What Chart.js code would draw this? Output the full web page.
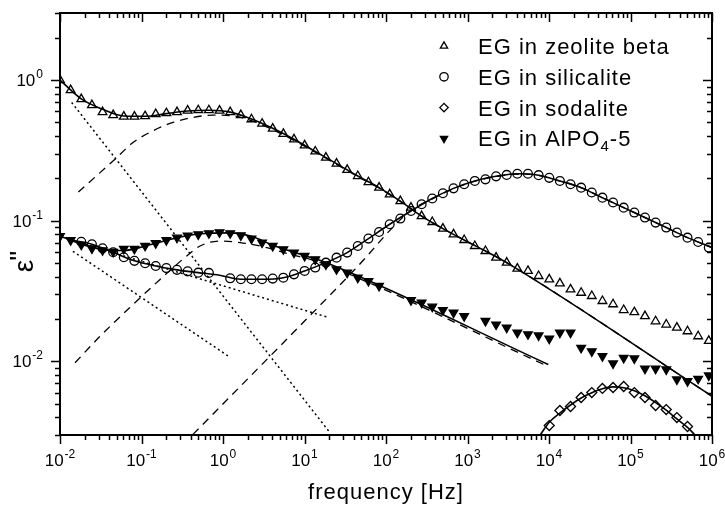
<!DOCTYPE html>
<html>
<head>
<meta charset="utf-8">
<script src="https://cdn.jsdelivr.net/npm/chart.js@4/dist/chart.umd.min.js"></script>
<style>
  html, body { margin: 0; background: #fff; }
  canvas { display: block; }
</style>
</head>
<body>
<canvas id="loss" width="725" height="507"></canvas>
<script>
// measured frequencies in Hz, shared by all four samples
var freq = [0.01, 0.01351, 0.01824, 0.02463, 0.03327, 0.04494, 0.06067, 0.0819, 0.1107, 0.1494,
  0.2018, 0.2726, 0.3681, 0.4972, 0.6714, 0.9068, 1.225, 1.654, 2.234, 3.017,
  4.074, 5.502, 7.43, 10.03, 13.55, 18.3, 24.72, 33.39, 45.08, 60.89,
  82.22, 111, 150, 202.5, 273.5, 369.4, 498.9, 673.7, 909.9, 1229,
  1660, 2242, 3027, 4088, 5521, 7456, 10070, 13600, 18370, 24800,
  33500, 45240, 61090, 82500, 111400, 150500, 203200, 274500, 370700, 500600,
  676100, 913100];

// dielectric loss of ethylene glycol in the four hosts (null = no point)
var zeoliteBeta = [1.0, 0.849, 0.732, 0.664, 0.592, 0.564, 0.550, 0.550, 0.554, 0.573,
  0.582, 0.592, 0.607, 0.611, 0.611, 0.607, 0.592, 0.564, 0.527, 0.490,
  0.452, 0.415, 0.379, 0.344, 0.311, 0.281, 0.255, 0.230, 0.208, 0.188,
  0.172, 0.154, 0.138, 0.124, 0.108, 0.098, 0.088, 0.0801, 0.073, 0.0662,
  0.061, 0.0547, 0.0504, 0.0457, 0.044, 0.0405, 0.0383, 0.0359, 0.0325, 0.0308,
  0.0292, 0.0269, 0.0255, 0.0232, 0.0224, 0.021, 0.0193, 0.0183, 0.0174, 0.0164,
  0.0151, 0.014];

var silicalite = [null, null, 0.0709, 0.0681, 0.0637, 0.0597, 0.055, 0.0519, 0.0499, 0.0477,
  0.0461, 0.0448, 0.0437, 0.0428, 0.0426, null, 0.039, 0.0384, 0.0384, 0.0384,
  0.0388, 0.0394, 0.0416, 0.044, 0.0465, 0.0504, 0.0547, 0.0594, 0.0662, 0.0747,
  0.0832, 0.0945, 0.1037, 0.1174, 0.131, 0.144, 0.157, 0.17, 0.182, 0.192,
  0.197, 0.207, 0.212, 0.216, 0.216, 0.211, 0.202, 0.192, 0.182, 0.172,
  0.159, 0.146, 0.135, 0.124, 0.1144, 0.1054, 0.0971, 0.0895, 0.0824, 0.0759,
  0.0707, 0.0645];

var sodalite = [null, null, null, null, null, null, null, null, null, null,
  null, null, null, null, null, null, null, null, null, null,
  null, null, null, null, null, null, null, null, null, null,
  null, null, null, null, null, null, null, null, null, null,
  null, null, null, null, null, null, 0.0035, 0.00448, 0.00478, 0.00554,
  0.00601, 0.00643, 0.00653, 0.00664, 0.00601, 0.00554, 0.00486, 0.00455, 0.00399, 0.00345,
  null, null];

var alpo5 = [0.0776, 0.0727, 0.0675, 0.0637, 0.0617, 0.0602, 0.0632, 0.0632, 0.0664, 0.0692,
  0.0727, 0.0759, 0.0785, 0.0801, 0.0815, 0.0828, 0.0815, 0.0788, 0.0745, 0.07,
  0.0662, 0.0627, 0.0594, 0.0562, 0.0532, 0.049, 0.0452, 0.0428, 0.0394, 0.0373,
  0.0344, null, null, 0.0273, 0.0262, 0.0245, 0.0232, 0.0222, 0.021, null,
  0.0194, 0.0183, 0.0174, 0.016, 0.0156, 0.0153, 0.0145, 0.016, 0.016, 0.0125,
  0.0118, 0.0109, 0.00968, 0.0106, 0.0105, 0.00887, 0.00887, 0.00877, 0.00745, 0.00724,
  0.00753, 0.00795];

// fitted curves: total (solid), relaxation term (dashed), low-frequency term (dotted)
var fitBetaF = [0.01, 0.01824, 0.03327, 0.06067, 0.1107, 0.2018, 0.3681, 0.6714, 1.225, 2.234,
  4.074, 7.43, 13.55, 24.72, 45.08, 82.22, 150, 273.5, 498.9, 909.9, 1660, 3027, 1e6];
var fitBeta = [1.0, 0.735, 0.62, 0.556, 0.553, 0.578, 0.603, 0.61, 0.592, 0.53,
  0.455, 0.38, 0.311, 0.255, 0.208, 0.172, 0.138, 0.108, 0.088, 0.073, 0.061, 0.0504, 0.00566];
var relaxBetaF = [0.0168, 0.031, 0.0473, 0.0787, 0.138, 0.244, 0.429, 0.754, 1.33, 2.234,
  4.074, 7.43, 13.55, 24.72, 45.08, 82.22, 150, 273.5, 498.9, 909.9, 1660, 3027, 1e6];
var relaxBeta = [0.16, 0.22, 0.274, 0.36, 0.436, 0.5, 0.543, 0.564, 0.557, 0.515,
  0.445, 0.373, 0.307, 0.252, 0.206, 0.171, 0.137, 0.108, 0.088, 0.073, 0.061, 0.0504, 0.00566];
var lowBetaF = [0.0139, 20.6];
var lowBeta = [0.694, 0.00311];

var fitSilF = [0.0135, 0.02463, 0.04494, 0.0819, 0.1494, 0.2726, 0.4972, 0.9068, 1.654, 3.017,
  5.502, 10.03, 18.3, 33.39, 60.89, 111, 202.5, 369.4, 673.7, 1229, 2242, 4088, 7456,
  13600, 24800, 45240, 82500, 150500, 274500, 500600, 1e6];
var fitSil = [0.073, 0.0681, 0.0597, 0.0519, 0.0477, 0.0448, 0.0428, 0.041, 0.0384, 0.0384,
  0.0394, 0.044, 0.0504, 0.0594, 0.0747, 0.0945, 0.1174, 0.144, 0.17, 0.192, 0.207, 0.216, 0.211,
  0.192, 0.172, 0.146, 0.124, 0.1054, 0.0895, 0.0759, 0.0645];
var relaxSilF = [0.428, 3.78, 39.7, 197, 369.4, 673.7, 1229, 2242, 4088, 7456,
  13600, 24800, 45240, 82500, 150500, 274500, 500600, 1e6];
var relaxSil = [0.00303, 0.0109, 0.0439, 0.117, 0.143, 0.169, 0.191, 0.206, 0.215, 0.21,
  0.192, 0.172, 0.146, 0.124, 0.1054, 0.0895, 0.0759, 0.0645];
var lowSilF = [0.0135, 19.4];
var lowSil = [0.073, 0.0206];

var fitSodF = [7800, 10070, 13600, 18370, 24800, 33500, 45240, 61090, 82500, 111400,
  150500, 203200, 274500, 370700, 500600, 618000];
var fitSod = [0.003, 0.0037, 0.0043, 0.0049, 0.0055, 0.006, 0.0064, 0.0066, 0.0065, 0.0062,
  0.0057, 0.0051, 0.0045, 0.0039, 0.0034, 0.003];

var fitAlpoF = [0.01, 0.01824, 0.03327, 0.06067, 0.1107, 0.2018, 0.3681, 0.6714, 1.225, 2.234,
  4.074, 7.43, 13.55, 17.9, 9800];
var fitAlpo = [0.078, 0.068, 0.0625, 0.0615, 0.066, 0.0725, 0.0785, 0.0815, 0.082, 0.0775,
  0.067, 0.0597, 0.0535, 0.0507, 0.00952];
var relaxAlpoF = [0.0153, 0.031, 0.0793, 0.169, 0.359, 0.523, 0.919, 1.62, 3.44, 6.64, 11.7, 17.9, 9800];
var relaxAlpo = [0.0098, 0.0151, 0.0255, 0.0383, 0.0562, 0.0662, 0.0718, 0.07, 0.0645, 0.0578, 0.0532, 0.049, 0.0092];
var lowAlpoF = [0.0144, 1.22];
var lowAlpo = [0.0607, 0.0107];

var legendLabels = ["EG in zeolite beta", "EG in silicalite", "EG in sodalite", "EG in AlPO"];
var xTickExp = ["-2", "-1", "0", "1", "2", "3", "4", "5", "6"];
var yTickExp = ["-2", "-1", "0"];

function pts(xs, ys) {
  var out = [];
  for (var i = 0; i < xs.length; i++) {
    if (ys[i] !== null) out.push({ x: xs[i], y: ys[i] });
  }
  return out;
}

function marks(values, style, filled, rot) {
  return {
    data: pts(freq, values),
    showLine: false,
    pointStyle: style,
    pointRotation: rot || 0,
    pointRadius: style === "circle" ? 4.4 : 5,
    pointBorderWidth: 1.3,
    pointBorderColor: "#000",
    pointBackgroundColor: filled ? "#000" : "rgba(0,0,0,0)",
    clip: 0,
  };
}

function curve(xs, ys, dash, width) {
  return {
    data: pts(xs, ys),
    showLine: true,
    pointRadius: 0,
    borderColor: "#000",
    borderWidth: width,
    borderDash: dash,
    cubicInterpolationMode: "monotone",
    clip: 0,
  };
}

var FONT = '"Liberation Sans", Arial, sans-serif';

// box, log ticks, power-of-ten labels, axis titles and legend
var decor = {
  id: "decor",
  afterDraw: function (chart) {
    var ctx = chart.ctx, a = chart.chartArea;
    var sx = chart.scales.x, sy = chart.scales.y;
    ctx.save();
    ctx.strokeStyle = "#000";
    ctx.fillStyle = "#000";

    ctx.lineWidth = 1.5;
    var d, m, v, p;
    for (d = -2; d <= 6; d++) {
      for (m = 1; m <= 9; m++) {
        v = m * Math.pow(10, d);
        if (v > 1e6) break;
        p = Math.round(sx.getPixelForValue(v)) + 0.5;
        var len = m === 1 ? 9 : 5;
        ctx.beginPath();
        ctx.moveTo(p, a.bottom); ctx.lineTo(p, a.bottom + len);
        ctx.moveTo(p, a.top); ctx.lineTo(p, a.top + len);
        ctx.stroke();
      }
    }
    for (d = -3; d <= 0; d++) {
      for (m = 1; m <= 9; m++) {
        v = m * Math.pow(10, d);
        if (v < 0.003 - 1e-9 || v > 3 + 1e-9) continue;
        p = Math.round(sy.getPixelForValue(v)) + 0.5;
        var len2 = m === 1 ? 9 : 5;
        ctx.beginPath();
        ctx.moveTo(a.left, p); ctx.lineTo(a.left - len2, p);
        ctx.moveTo(a.right, p); ctx.lineTo(a.right - len2, p);
        ctx.stroke();
      }
    }

    ctx.lineWidth = 2;
    ctx.strokeRect(a.left, a.top, a.right - a.left, a.bottom - a.top);

    function pow10(exp, x, y, right) {
      ctx.font = "17px " + FONT;
      var w1 = ctx.measureText("10").width;
      ctx.font = "12px " + FONT;
      var w2 = ctx.measureText(exp).width;
      var x0 = right ? x - w1 - w2 - 1 : x - (w1 + w2 + 1) / 2;
      ctx.textAlign = "left";
      ctx.textBaseline = "alphabetic";
      ctx.font = "17px " + FONT;
      ctx.fillText("10", x0, y);
      ctx.font = "12px " + FONT;
      ctx.fillText(exp, x0 + w1 + 1, y - 8);
    }
    xTickExp.forEach(function (e) {
      pow10(e, sx.getPixelForValue(Math.pow(10, +e)), a.bottom + 31, false);
    });
    yTickExp.forEach(function (e) {
      pow10(e, a.left - 17, sy.getPixelForValue(Math.pow(10, +e)) + 6, true);
    });

    ctx.textAlign = "center";
    ctx.font = "22px " + FONT;
    ctx.letterSpacing = "1px";
    ctx.fillText("frequency [Hz]", (a.left + a.right) / 2, 499);

    // rotated epsilon with double prime
    ctx.save();
    ctx.translate(33, 266);
    ctx.rotate(-Math.PI / 2);
    ctx.letterSpacing = "0px";
    ctx.textAlign = "left";
    ctx.font = "28px " + FONT;
    var we = ctx.measureText("\u03b5").width;
    ctx.fillText("\u03b5", -we / 2, 0);
    ctx.fillText("\"", we / 2 - 1, -4);
    ctx.restore();

    // legend
    var styles = [["triangle", false, 0], ["circle", false, 0], ["rectRot", false, 0], ["triangle", true, 180]];
    ctx.textAlign = "left";
    for (var i = 0; i < legendLabels.length; i++) {
      var base = 54 + i * 30.8;
      ctx.lineWidth = 1.3;
      ctx.fillStyle = styles[i][1] ? "#000" : "rgba(0,0,0,0)";
      Chart.helpers.drawPoint(ctx, {
        pointStyle: styles[i][0], rotation: styles[i][2], radius: 4.2, borderWidth: 1.3,
      }, 444, base - 8);
      ctx.fillStyle = "#000";
      ctx.letterSpacing = "1px";
      ctx.font = "22px " + FONT;
      ctx.fillText(legendLabels[i], 478, base);
      if (i === 3) {
        var w = ctx.measureText(legendLabels[i]).width;
        ctx.font = "15px " + FONT;
        ctx.fillText("4", 478 + w, base + 5);
        var w4 = ctx.measureText("4").width;
        ctx.font = "22px " + FONT;
        ctx.fillText("-5", 478 + w + w4, base);
      }
    }
    ctx.restore();
  },
};

new Chart(document.getElementById("loss"), {
  type: "scatter",
  data: {
    datasets: [
      marks(zeoliteBeta, "triangle", false),
      marks(silicalite, "circle", false),
      marks(sodalite, "rectRot", false),
      marks(alpo5, "triangle", true, 180),
      curve(fitBetaF, fitBeta, [], 1.6),
      curve(fitSilF, fitSil, [], 1.6),
      curve(fitSodF, fitSod, [], 1.6),
      curve(fitAlpoF, fitAlpo, [], 1.6),
      curve(relaxBetaF, relaxBeta, [8, 6], 1.3),
      curve(relaxSilF, relaxSil, [8, 6], 1.3),
      curve(relaxAlpoF, relaxAlpo, [8, 6], 1.3),
      curve(lowBetaF, lowBeta, [2, 3], 1.5),
      curve(lowSilF, lowSil, [2, 3], 1.5),
      curve(lowAlpoF, lowAlpo, [2, 3], 1.5),
    ],
  },
  options: {
    responsive: false,
    animation: false,
    devicePixelRatio: 1,
    layout: { padding: { left: 60, right: 13, top: 13, bottom: 72 } },
    scales: {
      x: { type: "logarithmic", min: 0.01, max: 1e6, display: false },
      y: { type: "logarithmic", min: 0.003, max: 3, display: false },
    },
    plugins: { legend: { display: false }, tooltip: { enabled: false } },
  },
  plugins: [decor],
});
</script>
</body>
</html>
